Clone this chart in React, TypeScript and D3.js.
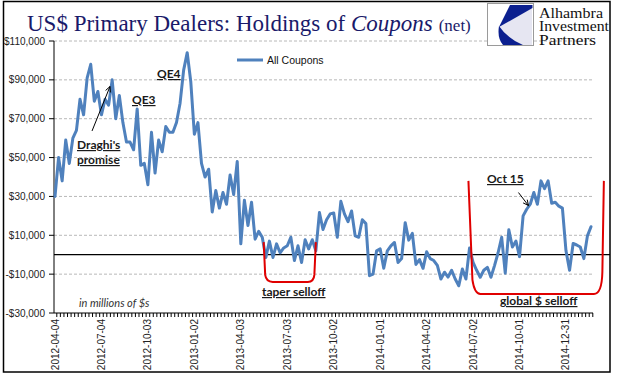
import React from "react";
import * as d3 from "d3";

// Weekly net holdings of coupons, millions of $ (from 2012-04-04)
const holdings: number[] = [
  30000, 50000, 38000, 59000, 47000, 60000, 64000, 80000, 72000, 91000,
  98000, 79000, 84000, 72000, 80000, 77000, 90000, 70000, 82000, 68000,
  58000, 58000, 54000, 75000, 46000, 47000, 36000, 63000, 42000, 59000,
  53000, 66000, 63000, 63000, 68000, 78000, 95000, 104000, 89000, 62000,
  68000, 47000, 40000, 44000, 22000, 33000, 24000, 32000, 26000, 41000,
  31000, 48000, 5600, 28000, 15000, 27000, 8000, 12000, 9000, -1400,
  7000, -1400, 5600, 1000, 3500, 4600, 9000, -3000, 4600, -4000,
  7700, 3000, 7700, 2000, 21700, 13000, 18000, 21000, 21500, 9000,
  27500, 21000, 17000, 22500, 9700, 9000, 18000, 16000, -10800, -10000,
  2000, 3000, -7000, 2000, 4600, 6300, -4000, -2000, 16500, 7500,
  11000, -5000, -2500, -7000, 1500, -2000, -3000, -5500, -12500, -9000,
  -11500, -8000, -12500, -16000, -7400, -12500, 3400, -4000, -8000, -11600,
  -8000, -6500, -11600, -5600, 1000, 9000, -9500, 12800, 4000, 7000,
  -1000, 20000, 23400, 26000, 32000, 26000, 38000, 34000, 38000, 26500,
  27000, 25000, 24000, 2000, -8000, 5800, 5000, 4000, -2000, 9700,
  14400,
];

const tickLabels: string[] = [
  "2012-04-04", "2012-07-04", "2012-10-03", "2013-01-02", "2013-04-03", "2013-07-03",
  "2013-10-02", "2014-01-01", "2014-04-02", "2014-07-02", "2014-10-01", "2014-12-31",
];
const startDate = "2012-04-04";

const yTicks: number[] = [110000, 90000, 70000, 50000, 30000, 10000, -10000, -30000];

const seriesName = "All Coupons";

// bracket annotations in data terms
const taperBracket = { i0: 58.4, i1: 73, top: 6500, bottom: -14000 };
const globalBracket = { i0: 115.7, i1: 153.6, top: 38000, bottom: -20200 };

export default function App() {
  const W = 618;
  const H = 381;
  const x = d3.scaleLinear().domain([0, holdings.length - 1]).range([55, 591]);
  const y = d3.scaleLinear().domain([-30000, 110000]).range([313, 41]);
  const plotLeft = 54;
  const plotRight = 593;

  const parse = d3.timeParse("%Y-%m-%d");
  const s0 = parse(startDate)!;
  const tickIdx = tickLabels.map((t) => Math.round(d3.timeDay.count(s0, parse(t)!) / 7));

  const line = d3
    .line<number>()
    .x((_, i) => x(i))
    .y((d) => y(d));

  const fmt = d3.format(",");
  const yLabel = (v: number) => (v < 0 ? "-$" + fmt(-v) : "$" + fmt(v));

  const tb = taperBracket;
  const tx0 = x(tb.i0), tx1 = x(tb.i1), tt = y(tb.top), tbo = y(tb.bottom);
  const taperPath = `M${tx0},${tt} L${tx0 + 1.5},${tbo - 7} Q${tx0 + 2.5},${tbo} ${tx0 + 9},${tbo} L${tx1 - 8},${tbo} Q${tx1 - 2},${tbo} ${tx1 - 1.5},${tbo - 7} L${tx1},${tt}`;

  const gb = globalBracket;
  const gx0 = x(gb.i0), gx1 = x(gb.i1), gt = y(gb.top), gbo = y(gb.bottom);
  const globalPath = `M${gx0},${gt} L${gx0 + 4},${gbo - 14} Q${gx0 + 6},${gbo} ${gx0 + 12},${gbo} L${gx1 - 10},${gbo} Q${gx1 - 2},${gbo} ${gx1 - 1.5},${gbo - 22} L${gx1},${gt}`;

  const dTail = [x(10.36), y(63700)];
  const dTip = [x(15.4), y(86600)];
  const oTail = [x(129.7), y(32000)];
  const oTip = [x(132.5), y(25300)];

  const arrowHead = (tail: number[], tip: number[], len = 6, ang = 0.45) => {
    const a = Math.atan2(tip[1] - tail[1], tip[0] - tail[0]);
    const p1 = [tip[0] - len * Math.cos(a - ang), tip[1] - len * Math.sin(a - ang)];
    const p2 = [tip[0] - len * Math.cos(a + ang), tip[1] - len * Math.sin(a + ang)];
    return `M${p1[0]},${p1[1]} L${tip[0]},${tip[1]} L${p2[0]},${p2[1]}`;
  };

  const annFont = "Lato, 'Open Sans', sans-serif";
  const axFont = "'Liberation Sans', Arial, sans-serif";
  const serif = "'Liberation Serif', 'Times New Roman', serif";

  return (
    <svg
      width={W}
      height={H}
      viewBox={`0 0 ${W} ${H}`}
      style={{ position: "absolute", left: 0, top: 0, background: "#fff" }}
    >
      <rect x={0} y={0} width={W} height={H} fill="#fff" />
      <rect x={3.5} y={1.5} width={606.5} height={370.5} fill="none" stroke="#000" strokeWidth={1.5} />

      {yTicks.filter((v) => v !== -30000).map((v) => (
        <line
          key={"g" + v}
          x1={plotLeft}
          x2={plotRight}
          y1={y(v)}
          y2={y(v)}
          stroke="#b8b8b8"
          strokeWidth={1}
          strokeDasharray="3,2"
        />
      ))}

      <text x={27} y={31} fontFamily={serif} fontSize={23} fill="#1a1a6a">
        US$ Primary Dealers: Holdings of <tspan fontStyle="italic">Coupons</tspan>
        <tspan fontSize={17} dx={6}>(net)</tspan>
      </text>

      <g>
        <rect x={487.5} y={3.5} width={46} height={42} fill="#fff" stroke="#9a9a9a" strokeWidth={1} />
        <path d="M499,26 L532,8 L532,45 L523,45 Q507,38 499,26 Z" fill="#e6e6f2" />
        <path d="M510,5 L532.5,5 L532.5,8 L499,27 Z" fill="#0b1f8f" />
        <path d="M499,26 Q497,38 503,45 L523,45 Q507,38 499,26 Z" fill="#0b1f8f" />
        <text x={539} y={17.5} fontFamily={serif} fontSize={14} fill="#111" textLength={64} lengthAdjust="spacingAndGlyphs">Alhambra</text>
        <text x={539} y={31} fontFamily={serif} fontSize={14} fill="#111" textLength={70} lengthAdjust="spacingAndGlyphs">Investment</text>
        <text x={539} y={44.5} fontFamily={serif} fontSize={14} fill="#111" textLength={57} lengthAdjust="spacingAndGlyphs">Partners</text>
      </g>

      <line x1={plotLeft} x2={plotLeft} y1={y(110000)} y2={y(-30000)} stroke="#000" strokeWidth={1} />
      {yTicks.map((v) => (
        <g key={"yt" + v}>
          <line x1={plotLeft - 5} x2={plotLeft} y1={y(v)} y2={y(v)} stroke="#000" strokeWidth={1} />
          <text x={45} y={y(v) + 3.5} textAnchor="end" fontFamily={axFont} fontSize={10} fill="#222">
            {yLabel(v)}
          </text>
        </g>
      ))}

      <line x1={plotLeft} x2={plotRight} y1={y(-30000)} y2={y(-30000)} stroke="#000" strokeWidth={1} />
      {holdings.map((_, i) => (
        <line key={"xt" + i} x1={x(i) + 1.8} x2={x(i) + 1.8} y1={y(-30000)} y2={y(-30000) + 4} stroke="#000" strokeWidth={1} />
      ))}
      {tickLabels.map((t, k) => (
        <text
          key={t}
          transform={`translate(${x(tickIdx[k]) + 3.5},${y(-30000) + 6}) rotate(-90)`}
          textAnchor="end"
          fontFamily={axFont}
          fontSize={10}
          fill="#222"
        >
          {t}
        </text>
      ))}

      <line x1={plotLeft} x2={610} y1={y(0)} y2={y(0)} stroke="#000" strokeWidth={1.3} />

      <path d={line(holdings) || ""} fill="none" stroke="#4f81bd" strokeWidth={3} strokeLinejoin="round" strokeLinecap="round" />

      <path d={taperPath} fill="none" stroke="#e00000" strokeWidth={2} />
      <path d={globalPath} fill="none" stroke="#e00000" strokeWidth={2} />

      <line x1={237} x2={263} y1={60} y2={60} stroke="#4f81bd" strokeWidth={3} />
      <text x={267} y={63.5} fontFamily={axFont} fontSize={10.5} fill="#111">
        {seriesName}
      </text>

      <g fontFamily={annFont} fontWeight="bold" fontSize={12} fill="#1a1a1a" textDecoration="underline">
        <text x={157} y={78}>QE4</text>
        <text x={132} y={104}>QE3</text>
        <text x={77} y={149}>Draghi's</text>
        <text x={77} y={164}>promise</text>
        <text x={487} y={183}>Oct 15</text>
        <text x={262} y={296}>taper selloff</text>
        <text x={500} y={305}>global $ selloff</text>
      </g>
      <text x={79} y={307} fontFamily={annFont} fontStyle="italic" fontSize={11} fill="#333">
        in millions of $s
      </text>

      <line x1={dTail[0]} y1={dTail[1]} x2={dTip[0]} y2={dTip[1]} stroke="#000" strokeWidth={1} />
      <path d={arrowHead(dTail, dTip)} fill="none" stroke="#000" strokeWidth={1} />
      <line x1={oTail[0]} y1={oTail[1]} x2={oTip[0]} y2={oTip[1]} stroke="#000" strokeWidth={1} />
      <path d={arrowHead(oTail, oTip)} fill="none" stroke="#000" strokeWidth={1} />
    </svg>
  );
}
